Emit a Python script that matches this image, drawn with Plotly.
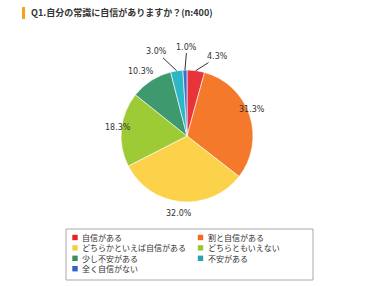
import math
import plotly.graph_objects as go

categories = ["自信がある", "割と自信がある", "どちらかといえば自信がある", "どちらともいえない",
              "少し不安がある", "不安がある", "全く自信がない"]
values = [4.3, 31.3, 32.0, 18.3, 10.3, 3.0, 1.0]
colors = ["#e8333a", "#f4792a", "#fcd24a", "#9dcb36", "#3e9a6e", "#2db7c6", "#3672d4"]
legend_colors = ["#e8202a", "#f26a1e", "#f8cc3a", "#96c832", "#3a8f60", "#2aa3b0", "#2f62c8"]
title_text = "Q1.自分の常識に自信がありますか？(n:400)"

W, H = 390, 286
cx, cy, r = 187, 136, 66

fig = go.Figure(go.Pie(
    labels=categories, values=values, sort=False, direction="clockwise", rotation=0,
    marker=dict(colors=colors, line=dict(color="#ffffff", width=0.6)),
    textinfo="none", hoverinfo="label+percent",
    domain=dict(x=[(cx - r) / W, (cx + r) / W], y=[1 - (cy + r) / H, 1 - (cy - r) / H]),
))

# percentage labels placed from slice midpoint angles
total = sum(values)
cum = 0
small_offsets = {0: (22, -14), 5: (-20, -19), 6: (2, -23)}
annotations = []
shapes = []
for i, v in enumerate(values):
    mid = (cum + v / 2) / total * 2 * math.pi
    cum += v
    lab = f"{v:.1f}%"
    font = dict(family="DejaVu Sans", size=8, color="#333333")
    if i in small_offsets:
        ex, ey = cx + r * math.sin(mid), cy - r * math.cos(mid)
        ax, ay = small_offsets[i]
        annotations.append(dict(x=ex / W, y=1 - ey / H, xref="paper", yref="paper", text=lab,
                                showarrow=True, arrowhead=0, arrowwidth=1, arrowcolor="#333333",
                                ax=ax, ay=ay, font=font, standoff=0))
    else:
        R = 84
        px, py = cx + R * math.sin(mid), cy - R * math.cos(mid)
        annotations.append(dict(x=px / W, y=1 - py / H, xref="paper", yref="paper", text=lab,
                                showarrow=False, font=font))

# title
annotations.append(dict(x=29 / W, y=1 - 13 / H, xref="paper", yref="paper", xanchor="left",
                        yanchor="middle", text="<b>" + title_text + "</b>", showarrow=False,
                        font=dict(family="Noto Sans CJK JP", size=9, color="#333333")))
shapes.append(dict(type="rect", xref="paper", yref="paper", x0=22 / W, x1=25 / W,
                   y0=1 - 19 / H, y1=1 - 7 / H, fillcolor="#f4a21c", line=dict(width=0)))

# legend (two columns, built from the category list)
shapes.append(dict(type="rect", xref="paper", yref="paper", x0=66 / W, x1=313 / W,
                   y0=1 - 280 / H, y1=1 - 229 / H, fillcolor="rgba(0,0,0,0)",
                   line=dict(color="#aaaaaa", width=1)))
col_x = [75, 200.5]
row_y0, row_dy = 237.5, 10.4
for i, (name, col) in enumerate(zip(categories, legend_colors)):
    sx = col_x[i % 2]
    sy = row_y0 + (i // 2) * row_dy
    shapes.append(dict(type="rect", xref="paper", yref="paper",
                       x0=(sx - 2.7) / W, x1=(sx + 2.7) / W,
                       y0=1 - (sy + 2.7) / H, y1=1 - (sy - 2.7) / H,
                       fillcolor=col, line=dict(width=0)))
    annotations.append(dict(x=(sx + 5) / W, y=1 - sy / H, xref="paper", yref="paper",
                            xanchor="left", yanchor="middle", text=name, showarrow=False,
                            font=dict(family="Noto Sans CJK JP", size=8, color="#333333")))

fig.update_layout(
    width=W, height=H, margin=dict(l=0, r=0, t=0, b=0),
    paper_bgcolor="#ffffff", plot_bgcolor="#ffffff",
    annotations=annotations, shapes=shapes, showlegend=False,
)

fig.write_html("out.html")
